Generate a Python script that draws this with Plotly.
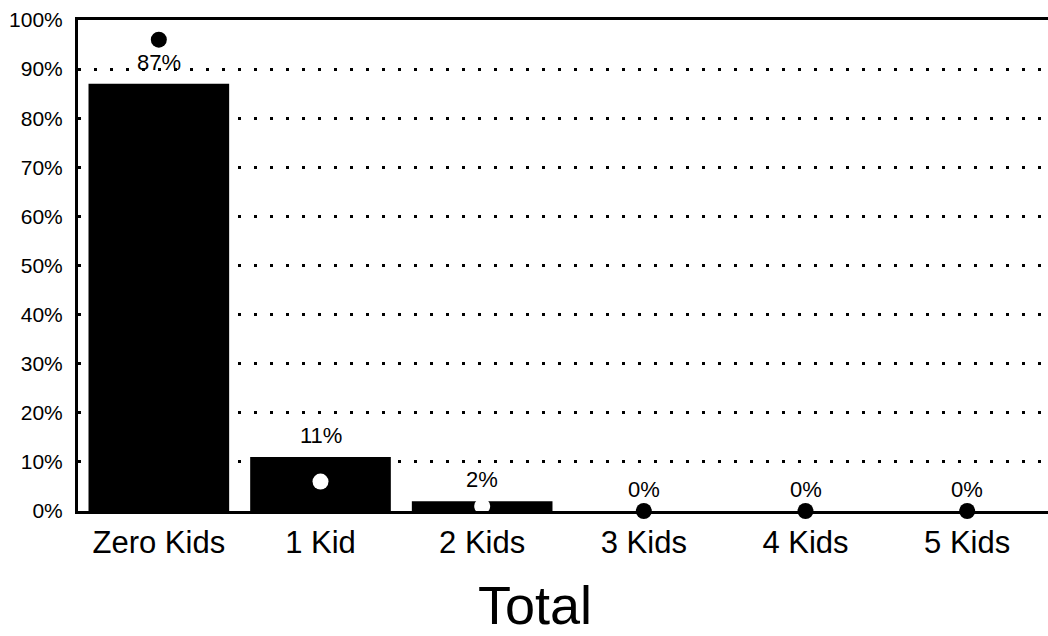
import plotly.graph_objects as go

categories = ["Zero Kids", "1 Kid", "2 Kids", "3 Kids", "4 Kids", "5 Kids"]
bar_values = [87, 11, 2, 0, 0, 0]
bar_labels = ["87%", "11%", "2%", "0%", "0%", "0%"]
marker_values = [96, 6, 1, 0, 0, 0]
marker_colors = ["black", "white", "white", "black", "black", "black"]
y_ticks = [0, 10, 20, 30, 40, 50, 60, 70, 80, 90, 100]
y_tick_labels = [f"{v}%" for v in y_ticks]
title_text = "Total"

FONT = "Liberation Sans, Arial, Helvetica, sans-serif"

fig = go.Figure()
fig.add_trace(go.Bar(
    x=categories, y=bar_values, width=0.87,
    marker=dict(color="black", line=dict(width=0)),
    hoverinfo="skip", showlegend=False,
))
fig.add_trace(go.Scatter(
    x=categories, y=marker_values, mode="markers",
    marker=dict(color=marker_colors, size=16, line=dict(width=0)),
    cliponaxis=False, showlegend=False, hoverinfo="skip",
))

for c, v, t in zip(categories, bar_values, bar_labels):
    fig.add_annotation(x=c, y=v, text=t, showarrow=False, yanchor="bottom",
                       yshift=7, font=dict(family=FONT, size=22, color="black"))

fig.add_annotation(x=0.471, y=-0.191, xref="paper", yref="paper", text=title_text,
                   showarrow=False, xanchor="center", yanchor="middle",
                   font=dict(family=FONT, size=54, color="black"))

fig.update_layout(
    width=1048, height=636,
    margin=dict(l=78, r=0, t=20, b=125, autoexpand=False),
    paper_bgcolor="white", plot_bgcolor="white",
    xaxis=dict(
        range=[-0.5, 5.5], showgrid=False, zeroline=False, automargin=False,
        showline=True, linecolor="black", linewidth=3, mirror=True,
        ticks="", tickfont=dict(family=FONT, size=31, color="black"),
        ticklabelstandoff=2,
    ),
    yaxis=dict(
        range=[0, 100], tickvals=y_ticks, ticktext=y_tick_labels, automargin=False,
        showgrid=True, gridcolor="black", gridwidth=3, griddash="3px,13px",
        zeroline=False, showline=True, linecolor="black", linewidth=3,
        ticks="", tickfont=dict(family=FONT, size=21, color="black"),
        ticklabelstandoff=8,
    ),
)

fig.write_html("out.html", config={"displayModeBar": False},
               post_script="document.body.style.margin='0';")
